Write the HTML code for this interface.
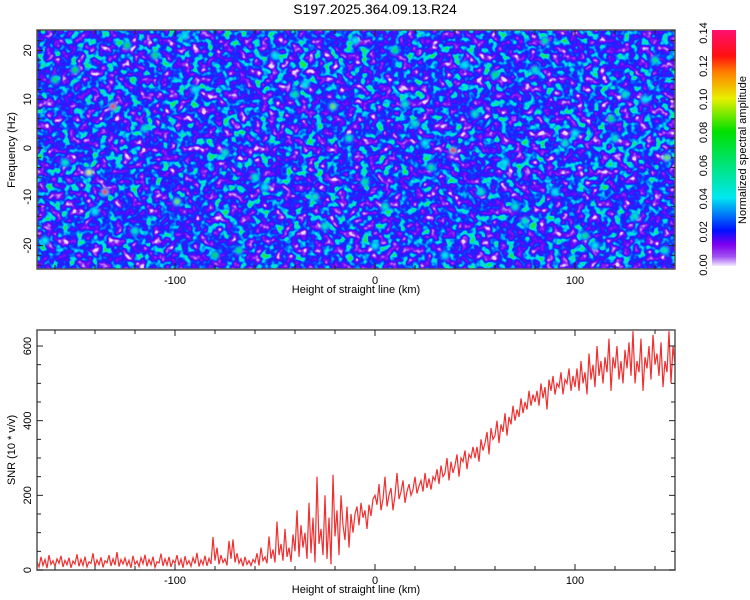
<!DOCTYPE html>
<html><head><meta charset="utf-8"><style>
html,body{margin:0;padding:0;background:#fff}
svg{display:block;font-family:"Liberation Sans",sans-serif}
</style></head><body>
<svg id="chart" width="750" height="600" viewBox="0 0 750 600">
<defs>
<linearGradient id="cbar" x1="0" y1="1" x2="0" y2="0">
<stop offset="0" stop-color="#f2e8ff"/><stop offset="0.04" stop-color="#a050f0"/>
<stop offset="0.09" stop-color="#8000f0"/><stop offset="0.15" stop-color="#0010ff"/>
<stop offset="0.29" stop-color="#00e8f0"/><stop offset="0.57" stop-color="#00e000"/>
<stop offset="0.71" stop-color="#e8f000"/><stop offset="0.82" stop-color="#ff8000"/>
<stop offset="0.89" stop-color="#ff1010"/><stop offset="1" stop-color="#ff1070"/>
</linearGradient>
<filter id="noiseTex" x="0" y="0" width="100%" height="100%" color-interpolation-filters="sRGB">
<feTurbulence type="fractalNoise" baseFrequency="0.13" numOctaves="2" seed="7" result="n"/>
<feColorMatrix in="n" type="matrix" values="1 0 0 0 0  1 0 0 0 0  1 0 0 0 0  0 0 0 0 1" result="g"/>
<feComponentTransfer in="g" result="s">
<feFuncR type="linear" slope="1.7" intercept="-0.33"/>
<feFuncG type="linear" slope="1.7" intercept="-0.33"/>
<feFuncB type="linear" slope="1.7" intercept="-0.33"/>
</feComponentTransfer>
<feComponentTransfer in="s">
<feFuncR type="table" tableValues="0.92 0.7 0.55 0.45 0.3 0.12 0.05 0 0 0 0.1"/>
<feFuncG type="table" tableValues="0.85 0.5 0.15 0.05 0.05 0.12 0.25 0.55 0.85 0.92 0.9"/>
<feFuncB type="table" tableValues="1 1 0.95 0.95 1 1 1 1 0.95 0.7 0.3"/>
</feComponentTransfer>
</filter>
<filter id="blur" x="-50%" y="-50%" width="200%" height="200%"><feGaussianBlur stdDeviation="1.2"/></filter>
<clipPath id="clipTop"><rect x="37" y="30" width="638" height="239"/></clipPath>
<clipPath id="clipBot"><rect x="37" y="330" width="638" height="240"/></clipPath>
</defs>
<text x="375" y="14" text-anchor="middle" font-size="14">S197.2025.364.09.13.R24</text>
<g id="top">
<rect x="37" y="30" width="638" height="239" fill="#3a30f0" filter="url(#noiseTex)"/>
<g id="blobs" clip-path="url(#clipTop)" filter="url(#blur)"></g>
<rect x="37" y="30" width="638" height="239" fill="none" stroke="#555" stroke-width="1.5"/>
<g id="topTicks"></g>
<text x="356" y="293" text-anchor="middle" font-size="11">Height of straight line (km)</text>
<text transform="translate(15,150) rotate(-90)" text-anchor="middle" font-size="11">Frequency (Hz)</text>
</g>
<g id="colorbar">
<rect x="712" y="30" width="24" height="236" fill="url(#cbar)"/>
<g id="cbTicks"></g>
<text transform="translate(746,150) rotate(-90)" text-anchor="middle" font-size="11">Normalized spectral amplitude</text>
</g>
<g id="bot">
<path id="snrLine" fill="none" stroke="#f03030" stroke-width="1.2" clip-path="url(#clipBot)"/>
<rect x="37" y="330" width="638" height="240" fill="none" stroke="#555" stroke-width="1.5"/>
<g id="botTicks"></g>
<text x="356" y="593" text-anchor="middle" font-size="11">Height of straight line (km)</text>
<text transform="translate(15,450) rotate(-90)" text-anchor="middle" font-size="11">SNR (10 * v/v)</text>
</g>
</svg>
<script>
const xTickLabels=[-100,0,100];
const freqTickLabels=[-20,-10,0,10,20];
const snrTickLabels=[0,200,400,600];
const cbTickLabels=["0.00","0.02","0.04","0.06","0.08","0.10","0.12","0.14"];
const snrStartKm=-169;
const snrStepKm=1;
const snrValues=[22,8,35,12,28,5,40,15,25,10,30,
18,38,8,26,14,33,6,24,16,42,10,
29,12,36,8,22,18,45,9,27,14,34,
7,25,19,40,11,30,13,48,9,28,16,
32,12,26,6,38,15,24,9,33,17,41,
10,28,14,36,7,22,19,44,11,30,13,
35,8,26,18,40,12,29,6,37,15,25,
10,33,17,46,9,27,14,38,11,31,16,
88,25,60,15,40,20,30,12,78,30,82,20,45,18,
30,10,35,15,25,12,28,
20,45,12,60,25,35,18,90,30,55,20,130,40,70,25,110,35,60,22,95,
50,160,35,120,60,100,30,180,45,140,20,250,70,110,40,200,30,140,15,255,90,160,40,200,120,80,170,60,150,100,
150,170,120,180,140,160,110,175,145,190,
200,175,230,160,190,250,170,200,220,160,200,260,190,210,240,180,210,230,200,215,250,205,225,240,210,260,220,245,215,250,
240,270,230,280,250,260,300,240,290,260,280,310,250,300,290,320,270,310,300,330,
300,330,290,350,320,340,370,310,380,350,360,400,340,390,370,420,360,410,390,440,400,430,410,460,420,450,430,480,440,470,
450,480,440,500,460,490,430,510,480,520,470,500,490,530,470,510,500,540,480,520,
490,540,480,560,500,530,470,580,510,550,490,600,520,560,500,570,530,620,480,570,540,600,510,560,500,590,540,610,520,640,500,560,530,620,480,570,540,600,510,630,550,580,520,610,490,560,530,640,500,600,550];
const blobKm=[-131,-135,39,-160,-143,-150,-99,-80,-68,-124,-110,-40,-21,-13,-5,10,20,28,53,60,70,85,95,105,118,130,140,146,-155,-120,-90,-60,-50,-30,0,15,45,75,100,125,-165,-140,-115,-95,-75,-55,-35,-25,-10,5,25,35,50,65,80,90,110,120,135,145];
const blobHz=[8.5,-9,-0.5,14,-5,16,-11,-22,-21,21,19,11,8.5,2,-7,20,5,-4,-9,15,-12,22,1,-18,6,-14,18,-2,-3,-17,12,-6,19,-10,-20,9,17,-15,3,11,-19,-13,4,23,-1,-8,13,-16,22,-12,1,-22,7,-3,16,-9,-20,2,10,-21];
const blobAmp=[0.13,0.13,0.13,0.07,0.1,0.08,0.09,0.08,0.07,0.08,0.07,0.06,0.09,0.05,0.06,0.07,0.05,0.06,0.05,0.07,0.05,0.06,0.05,0.06,0.07,0.05,0.06,0.09,0.05,0.05,0.04,0.05,0.04,0.05,0.04,0.05,0.04,0.05,0.04,0.05,0.04,0.04,0.05,0.04,0.05,0.04,0.04,0.05,0.04,0.05,0.04,0.04,0.05,0.04,0.05,0.04,0.04,0.05,0.04,0.05];
const NS="http://www.w3.org/2000/svg";
const X0=37,X1=675,KM0=-169,KM1=150;
function xs(km){return X0+(km-KM0)/(KM1-KM0)*(X1-X0);}
function fy(hz){return 148-hz*4.88;}
function sy(v){return 570-v*0.3733;}
function cy(v){return 265-v/0.14*232;}
function mk(tag,attrs,parent){const e=document.createElementNS(NS,tag);for(const k in attrs)e.setAttribute(k,attrs[k]);parent.appendChild(e);return e;}
function colorFor(a){
 const stops=[[0,[242,232,255]],[0.01,[128,0,240]],[0.02,[0,16,255]],[0.04,[0,232,240]],[0.08,[0,224,0]],[0.1,[232,240,0]],[0.115,[255,128,0]],[0.125,[255,16,16]],[0.14,[255,16,112]]];
 for(let i=1;i<stops.length;i++){if(a<=stops[i][0]){const t=(a-stops[i-1][0])/(stops[i][0]-stops[i-1][0]);const c=stops[i-1][1].map((v,j)=>Math.round(v+(stops[i][1][j]-v)*t));return `rgb(${c})`;}}
 return "rgb(255,16,112)";
}
const blobs=document.getElementById('blobs');
for(let i=0;i<blobKm.length;i++){
 const a=blobAmp[i];
 const outer=mk('circle',{cx:xs(blobKm[i]),cy:fy(blobHz[i]),r:4.5,fill:colorFor(0.035)},blobs);
 
 
 const inner=mk('circle',{cx:xs(blobKm[i]),cy:fy(blobHz[i]),r:2.5,fill:colorFor(a)},blobs);
 
 
}
function ticksX(g,yTop,yBot,labelY){
 for(let km=-160;km<=140;km+=20){const x=xs(km);const major=km%100===0;const L=major?6:4;
  mk('line',{x1:x,y1:yBot,x2:x,y2:yBot-L,stroke:'#222'},g);mk('line',{x1:x,y1:yTop,x2:x,y2:yTop+L,stroke:'#222'},g);}
 xTickLabels.forEach(v=>{const t=mk('text',{x:xs(v),y:labelY,'text-anchor':'middle','font-size':11},g);t.textContent=v;
  });
}
const tt=document.getElementById('topTicks');
ticksX(tt,30,269,284);
for(let hz=-24;hz<=24;hz+=2){const y=fy(hz);const L=hz%10===0?6:4;mk('line',{x1:37,y1:y,x2:37+L,y2:y,stroke:'#222'},tt);mk('line',{x1:675,y1:y,x2:675-L,y2:y,stroke:'#222'},tt);}
freqTickLabels.forEach(v=>{const t=mk('text',{transform:`translate(31,${fy(v)}) rotate(-90)`,'text-anchor':'middle','font-size':11},tt);t.textContent=v;
 });
const bt=document.getElementById('botTicks');
ticksX(bt,330,570,584);
for(let v=0;v<=600;v+=50){const y=sy(v);const L=v%200===0?6:4;mk('line',{x1:37,y1:y,x2:37+L,y2:y,stroke:'#222'},bt);mk('line',{x1:675,y1:y,x2:675-L,y2:y,stroke:'#222'},bt);}
snrTickLabels.forEach(v=>{const t=mk('text',{transform:`translate(31,${sy(v)}) rotate(-90)`,'text-anchor':'middle','font-size':11},bt);t.textContent=v;
 });
const cb=document.getElementById('cbTicks');
cbTickLabels.forEach(s=>{const v=parseFloat(s);const t=mk('text',{transform:`translate(707,${cy(v)}) rotate(-90)`,'text-anchor':'middle','font-size':11},cb);t.textContent=s;
 });
let d='';
snrValues.forEach((v,i)=>{d+=(i?'L':'M')+xs(snrStartKm+i*snrStepKm).toFixed(1)+','+sy(v).toFixed(1);});
document.getElementById('snrLine').setAttribute('d',d);
</script>
</body></html>
